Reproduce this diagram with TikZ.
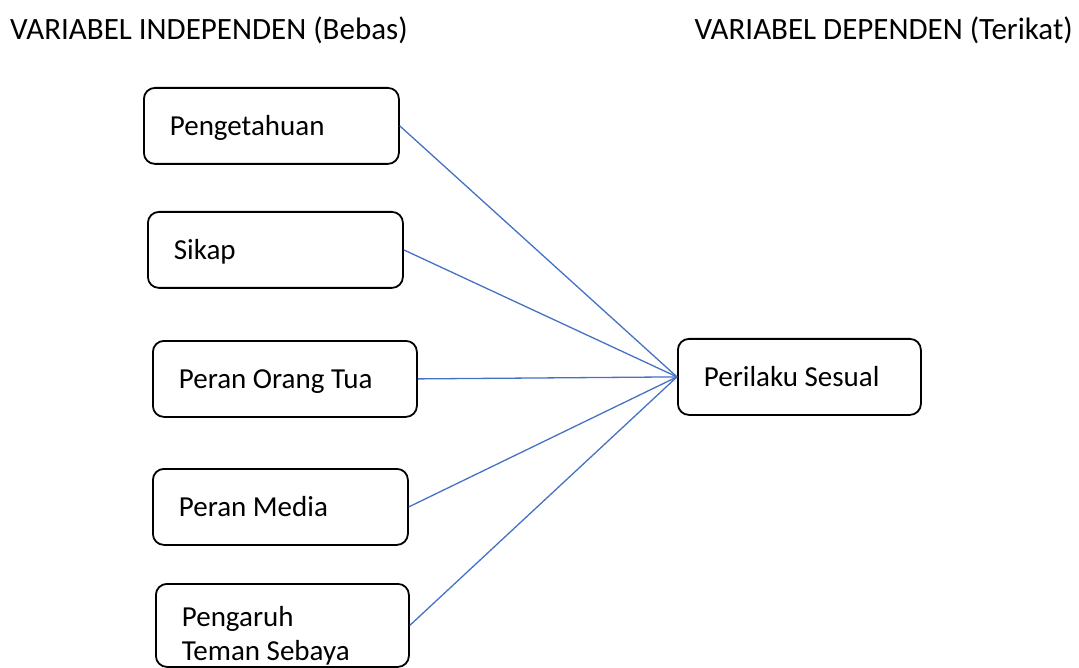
\documentclass[tikz,border=0pt]{standalone}
\usepackage{fontspec}
\setmainfont{Carlito}
\definecolor{linkblue}{RGB}{68,114,196}
\begin{document}
\begin{tikzpicture}[x=1pt,y=-1pt,
  varbox/.style={draw,line width=1.8pt,rounded corners=11pt,anchor=north west,
    align=flush left,inner xsep=26pt,inner ysep=0pt,text depth=0pt,minimum height=76pt,
    font=\fontsize{29}{34}\selectfont},
  heading/.style={font=\fontsize{31}{34}\selectfont,inner sep=0pt},
  link/.style={draw=linkblue,line width=1.3pt}]
\useasboundingbox (0,0) rectangle (1079,668);
% headings
\node[heading,anchor=west] (indep) at (10,30) {VARIABEL INDEPENDEN (Bebas)};
\node[heading,anchor=east] (dep) at (1073,30) {VARIABEL DEPENDEN (Terikat)};
% independent variables
\node[varbox,text width=203pt] (tahu) at (143,87) {Pengetahuan};
\node[varbox,text width=203pt] (sikap) at (147,211) {Sikap};
\node[varbox,text width=212pt] (ortu) at (152,340) {Peran Orang Tua};
\node[varbox,text width=203pt] (media) at (152,468) {Peran Media};
\node[varbox,text width=201pt,minimum height=83pt,text depth=18pt] (teman) at (155,583) {Pengaruh\\Teman Sebaya};
% dependent variable
\node[varbox,text width=191pt] (perilaku) at (677,338) {Perilaku Sesual};
% links
\draw[link] (tahu.east) -- (perilaku.west);
\draw[link] (sikap.east) -- (perilaku.west);
\draw[link] (ortu.east) -- (perilaku.west);
\draw[link] (media.east) -- (perilaku.west);
\draw[link] (teman.east) -- (perilaku.west);
\end{tikzpicture}
\end{document}
